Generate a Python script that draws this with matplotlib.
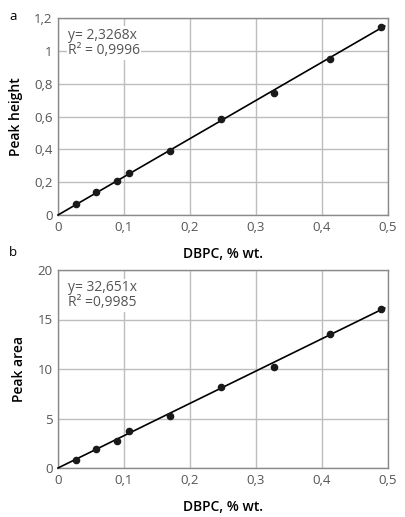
import matplotlib
matplotlib.use("Agg")
import matplotlib.pyplot as plt
import numpy as np

x_vals = [0.028, 0.058, 0.089, 0.108, 0.17, 0.247, 0.327, 0.412, 0.49]
peak_height = [0.065, 0.14, 0.205, 0.255, 0.39, 0.585, 0.745, 0.95, 1.145]
peak_area = [0.8, 1.9, 2.7, 3.7, 5.3, 8.2, 10.2, 13.5, 16.1]
slope_height = 2.3268
slope_area = 32.651
x_ticks = [0, 0.1, 0.2, 0.3, 0.4, 0.5]
x_ticklabels = ["0", "0,1", "0,2", "0,3", "0,4", "0,5"]
yh_ticks = [0, 0.2, 0.4, 0.6, 0.8, 1.0, 1.2]
yh_ticklabels = ["0", "0,2", "0,4", "0,6", "0,8", "1", "1,2"]
ya_ticks = [0, 5, 10, 15, 20]
ya_ticklabels = ["0", "5", "10", "15", "20"]

plt.rcParams['font.family'] = ['Open Sans', 'DejaVu Sans']

W, H = 405, 517
fig = plt.figure(figsize=(W/100, H/100), dpi=100)

def ax_rect(l, t, r, b):
    return [l/W, 1 - b/H, (r-l)/W, (b-t)/H]

ax1 = fig.add_axes(ax_rect(58, 18, 388, 215))
ax2 = fig.add_axes(ax_rect(58, 270, 388, 468))

def style(ax, ys, yt, ytl, ylim, slope, ylabel, eq, r2):
    ax.set_xlim(0, 0.5)
    ax.set_ylim(*ylim)
    ax.set_xticks(x_ticks)
    ax.set_xticklabels(x_ticklabels)
    ax.set_yticks(yt)
    ax.set_yticklabels(ytl)
    ax.grid(True, color="#bdbdbd", linewidth=1.0)
    ax.set_axisbelow(True)
    for s in ax.spines.values():
        s.set_color("#8a8a8a")
        s.set_linewidth(1.0)
    ax.tick_params(length=0, labelsize=9.5, labelcolor="#555555", pad=4)
    xl = np.array([0, 0.495])
    ax.plot(xl, slope*xl, color="black", linewidth=1.2, clip_on=False, zorder=3)
    ax.scatter(x_vals, ys, s=20, color="#1a1a1a", zorder=4, clip_on=False)
    ax.set_xlabel("DBPC, % wt.", fontsize=10, color="black", labelpad=10, fontweight=600)
    ax.set_ylabel(ylabel, fontsize=10, color="black", labelpad=8, fontweight=600)
    ax.text(0.03, 0.95, eq + "\n" + r2, transform=ax.transAxes, fontsize=10,
            color="#555555", va="top", ha="left", linespacing=1.05,
            bbox=dict(facecolor="white", edgecolor="none", pad=1))

style(ax1, peak_height, yh_ticks, yh_ticklabels, (0, 1.2), slope_height,
      "Peak height", "y= 2,3268x", "R² = 0,9996")
style(ax2, peak_area, ya_ticks, ya_ticklabels, (0, 20), slope_area,
      "Peak area", "y= 32,651x", "R² =0,9985")

fig.text(13/W, 1 - 16/H, "a", fontsize=9.5, color="black", ha="center", va="center")
fig.text(13/W, 1 - 252/H, "b", fontsize=9.5, color="black", ha="center", va="center")

fig.savefig("out.png", dpi=100)
